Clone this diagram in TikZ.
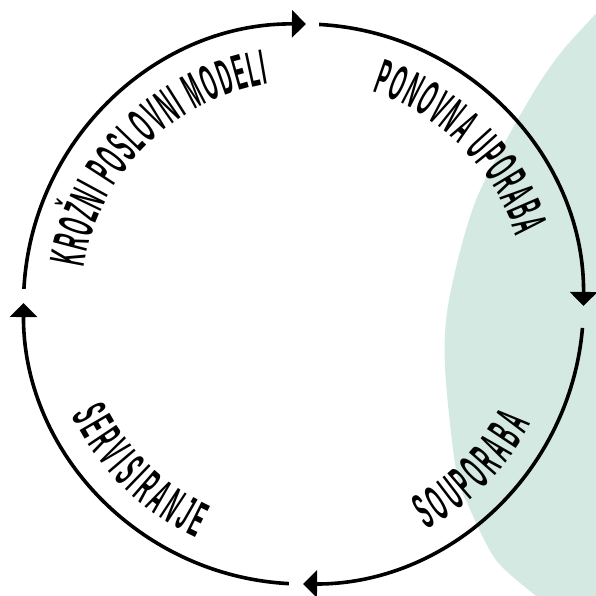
\documentclass[tikz,border=0pt]{standalone}
\usepackage{fontspec}
\newfontfamily\ringfont{Liberation Sans}[FakeStretch=0.355]
\usetikzlibrary{arrows.meta,decorations.text}
\definecolor{mint}{RGB}{211,233,225}
\begin{document}
\begin{tikzpicture}[x=1pt,y=1pt,
  ring/.style={line width=3.6pt, -{Triangle[length=14pt,width=27pt]}},
  ringtext/.style 2 args={decorate, decoration={text along path, text align=center,
     text={|\ringfont\bfseries\fontsize{50}{50}\selectfont\kern#2pt|#1}}}
]
\useasboundingbox (-303.5,-292) rectangle (292.5,304);
\clip (-303.5,-292) rectangle (292.5,304);
% mint blob
\fill[mint] plot[smooth] coordinates {(308.5,307) (259.5,254) (225.5,204) (172.5,104) (145.5,4) (141.5,-63) (152.5,-166) (165.5,-203) (192.5,-256) (232.5,-292) (260,-315)} -- (330,-330) -- (330,330) -- cycle;
% ring coordinates
\coordinate (ctr) at (0,0);
\coordinate (s1) at (176.9:280);
\coordinate (s2) at (86.8:280);
\coordinate (s3) at (-4.9:280);
\coordinate (s4) at (-93:280);
\draw[ring] (s1) arc[start angle=176.9, end angle=89.5, radius=280];
\draw[ring] (s2) arc[start angle=86.8, end angle=-0.4, radius=280];
\draw[ring] (s3) arc[start angle=-4.9, end angle=-90.1, radius=280];
\draw[ring] (s4) arc[start angle=-93, end angle=-180.2, radius=280];
% texts
\path[ringtext={KROŽNI POSLOVNI MODELI}{1.9}] (180:223) arc[start angle=180, end angle=90, radius=223];
\path[ringtext={PONOVNA UPORABA}{1.9}] (90:223) arc[start angle=90, end angle=0, radius=223];
\path[ringtext={SOUPORABA}{4.4}] (-90:257) arc[start angle=-90, end angle=0, radius=257];
\path[ringtext={SERVISIRANJE}{4.4}] (180:257) arc[start angle=180, end angle=270, radius=257];
\end{tikzpicture}
\end{document}
